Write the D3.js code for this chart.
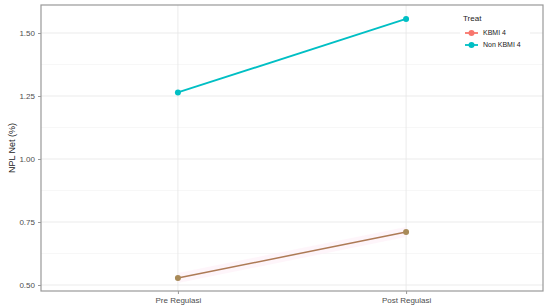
<!DOCTYPE html>
<html>
<head>
<meta charset="utf-8">
<script src="https://cdn.jsdelivr.net/npm/d3@7"></script>
<style>
  body { margin: 0; background: #fff; }
  text { font-family: "Liberation Sans", Arial, sans-serif; }
</style>
</head>
<body>
<svg id="chart" width="550" height="306"></svg>
<script>
const periods = ['Pre Regulasi', 'Post Regulasi']
const groups = ['KBMI 4', 'Non KBMI 4']
const kbmi4 = [0.528, 0.71]
const nonKbmi4 = [1.264, 1.556]
const yTicks = [0.5, 0.75, 1.0, 1.25, 1.5]
const yMinor = [0.625, 0.875, 1.125, 1.375]

const svg = d3.select('#chart')
const pLeft = 41, pRight = 543, pTop = 5, pBottom = 291

// discrete axis: points sit 0.6 steps in from each panel edge
const x = d3.scalePoint().domain(periods).range([pLeft, pRight]).padding(0.6)
const y = d3.scaleLinear().domain([0.5, 1.5]).range([285, 33])

const grid = svg.append('g')
grid.selectAll('.minor').data(yMinor).enter().append('line')
  .attr('x1', pLeft).attr('x2', pRight)
  .attr('y1', d => y(d)).attr('y2', d => y(d))
  .attr('stroke', '#f2f2f2').attr('stroke-width', 0.6)
grid.selectAll('.major').data(yTicks).enter().append('line')
  .attr('x1', pLeft).attr('x2', pRight)
  .attr('y1', d => y(d)).attr('y2', d => y(d))
  .attr('stroke', '#e6e6e6').attr('stroke-width', 0.8)
grid.selectAll('.vmajor').data(periods).enter().append('line')
  .attr('x1', d => x(d)).attr('x2', d => x(d))
  .attr('y1', pTop).attr('y2', pBottom)
  .attr('stroke', '#e6e6e6').attr('stroke-width', 0.8)

// faint band around the lower series
const band = d3.area()
  .x((d, i) => x(periods[i]))
  .y0(d => y(d) + 5).y1(d => y(d) - 5)
svg.append('path').datum(kbmi4)
  .attr('d', band).attr('fill', '#fdeef6').attr('opacity', 0.6)

const line = d3.line().x((d, i) => x(periods[i])).y(d => y(d))

svg.append('path').datum(nonKbmi4)
  .attr('d', line).attr('fill', 'none')
  .attr('stroke', '#00BFC4').attr('stroke-width', 1.8)
svg.selectAll('.pt2').data(nonKbmi4).enter().append('circle')
  .attr('cx', (d, i) => x(periods[i])).attr('cy', d => y(d))
  .attr('r', 3).attr('fill', '#00BFC4')

svg.append('path').datum(kbmi4)
  .attr('d', line).attr('fill', 'none')
  .attr('stroke', '#ad7a55').attr('stroke-width', 1.5)
svg.selectAll('.pt1').data(kbmi4).enter().append('circle')
  .attr('cx', (d, i) => x(periods[i])).attr('cy', d => y(d))
  .attr('r', 3).attr('fill', '#a88a58')

// panel border
svg.append('rect')
  .attr('x', pLeft).attr('y', pTop)
  .attr('width', pRight - pLeft).attr('height', pBottom - pTop)
  .attr('fill', 'none').attr('stroke', '#999').attr('stroke-width', 1.2)

// axes
const yAxis = svg.append('g').attr('transform', `translate(${pLeft},0)`)
  .call(d3.axisLeft(y).tickValues(yTicks).tickFormat(d3.format('.2f')).tickSize(3).tickPadding(3))
yAxis.select('.domain').remove()
yAxis.selectAll('line').attr('stroke', '#999')
yAxis.selectAll('text').attr('font-size', 8).attr('fill', '#4d4d4d')

const xAxis = svg.append('g').attr('transform', `translate(0,${pBottom})`)
  .call(d3.axisBottom(x).tickSize(3).tickPadding(3))
xAxis.select('.domain').remove()
xAxis.selectAll('line').attr('stroke', '#999')
xAxis.selectAll('text').attr('font-size', 8).attr('fill', '#4d4d4d')

svg.append('text')
  .attr('transform', `translate(15,${(pTop + pBottom) / 2}) rotate(-90)`)
  .attr('text-anchor', 'middle').attr('font-size', 9).attr('fill', '#222')
  .text('NPL Net (%)')

// legend
const colors = ['#F8766D', '#00BFC4']
const legend = svg.append('g').attr('transform', 'translate(460,12)')
legend.append('rect').attr('x', 0).attr('y', 0).attr('width', 70).attr('height', 40).attr('fill', '#fff')
legend.append('text').attr('x', 3).attr('y', 9).attr('font-size', 8).attr('fill', '#222').text('Treat')
const item = legend.selectAll('.item').data(groups).enter().append('g')
  .attr('transform', (d, i) => `translate(0,${21 + i * 12})`)
item.append('line').attr('x1', 5).attr('x2', 18)
  .attr('stroke', (d, i) => colors[i]).attr('stroke-width', 1.8)
item.append('circle').attr('cx', 11.5).attr('r', 3).attr('fill', (d, i) => colors[i])
item.append('text').attr('x', 23).attr('dy', '0.35em')
  .attr('font-size', 7).attr('fill', '#222').text(d => d)
</script>
</body>
</html>
